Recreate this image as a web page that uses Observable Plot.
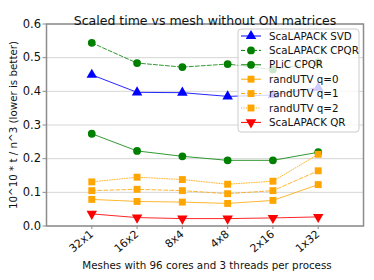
<!DOCTYPE html>
<html>
<head>
<meta charset="utf-8">
<script src="https://cdn.jsdelivr.net/npm/d3@7"></script>
<script src="https://cdn.jsdelivr.net/npm/@observablehq/plot@0.6"></script>
<style>
  html, body { margin: 0; padding: 0; background: #fff; }
  svg { font-family: "DejaVu Sans", sans-serif; }
</style>
</head>
<body>
<div id="chart"></div>
<script>
const meshes = ["32x1", "16x2", "8x4", "4x8", "2x16", "1x32"];
const scalapackSVD  = [0.449, 0.397, 0.396, 0.385, 0.389, 0.411];
const scalapackCPQR = [0.544, 0.484, 0.472, 0.481, 0.465, 0.486];
const plicCPQR      = [0.274, 0.223, 0.207, 0.195, 0.195, 0.219];
const randUTVq0     = [0.079, 0.073, 0.071, 0.067, 0.076, 0.123];
const randUTVq1     = [0.105, 0.109, 0.105, 0.096, 0.105, 0.164];
const randUTVq2     = [0.131, 0.145, 0.138, 0.124, 0.133, 0.213];
const scalapackQR   = [0.036, 0.025, 0.022, 0.022, 0.024, 0.027];
const yTicks = [0, 0.1, 0.2, 0.3, 0.4, 0.5, 0.6];

const triangleDown = {
  draw(context, size) {
    const y = -Math.sqrt(size / (3 * Math.sqrt(3)));
    context.moveTo(0, -y * 2);
    context.lineTo(-Math.sqrt(3) * y, y);
    context.lineTo(Math.sqrt(3) * y, y);
    context.closePath();
  }
};

const seriesDefs = [
  {name: "ScaLAPACK SVD",  values: scalapackSVD,  color: "#0000ff", dash: null,  symbol: "triangle", lineOpacity: 0.85},
  {name: "ScaLAPACK CPQR", values: scalapackCPQR, color: "#008000", dash: "4,2", symbol: "circle", lineOpacity: 0.8},
  {name: "PLiC CPQR",      values: plicCPQR,      color: "#008000", dash: null,  symbol: "circle", lineOpacity: 0.8},
  {name: "randUTV q=0",    values: randUTVq0,     color: "#ffa500", dash: null,  symbol: "square", lineOpacity: 0.8},
  {name: "randUTV q=1",    values: randUTVq1,     color: "#ffa500", dash: "4,2", symbol: "square", lineOpacity: 0.8},
  {name: "randUTV q=2",    values: randUTVq2,     color: "#ffa500", dash: "1,1.5", symbol: "square", lineOpacity: 0.8},
  {name: "ScaLAPACK QR",   values: scalapackQR,   color: "#ff0000", dash: null,  symbol: triangleDown, lineOpacity: 0.85}
];

const marks = [];
marks.push(Plot.gridY(yTicks, {stroke: "#cccccc", strokeOpacity: 1, strokeWidth: 0.8}));
for (const s of seriesDefs) {
  const rows = s.values.map((v, i) => ({i, v}));
  marks.push(Plot.line(rows, {x: "i", y: "v", stroke: s.color, strokeWidth: 1, strokeOpacity: s.lineOpacity, strokeDasharray: s.dash}));
  marks.push(Plot.dot(rows, {x: "i", y: "v", fill: s.color, stroke: "none", symbol: () => s.symbol, r: 3.9}));
}
marks.push(Plot.frame({stroke: "#8c8c8c", strokeWidth: 1.5}));
marks.push(Plot.axisY(yTicks, {tickFormat: d => d.toFixed(1), tickSize: 3.5, stroke: "#8c8c8c", fontSize: 11.5, fill: "#111", label: null, tickPadding: 2}));
marks.push(Plot.axisX(d3.range(meshes.length), {tickFormat: i => meshes[i], tickRotate: -40, tickSize: 3.5, stroke: "#8c8c8c", fontSize: 11, fill: "#111", label: null, tickPadding: 3}));
marks.push(Plot.text(["Scaled time vs mesh without ON matrices"], {frameAnchor: "top", dy: -8, fontSize: 12.5, fill: "#111"}));
marks.push(Plot.text(["Meshes with 96 cores and 3 threads per process"], {frameAnchor: "bottom", dy: 43, dx: 2, fontSize: 10.3, fill: "#111"}));
marks.push(Plot.text(["10^10 * t / n^3 (lower is better)"], {frameAnchor: "left", textAnchor: "middle", dx: -33, rotate: -90, fontSize: 10.3, fill: "#111"}));

const chart = Plot.plot({
  width: 374,
  height: 280,
  marginLeft: 46,
  marginRight: 11,
  marginTop: 23.5,
  marginBottom: 54.5,
  x: {type: "linear", domain: [-1, 6]},
  y: {type: "linear", domain: [0, 0.6]},
  marks
});

// legend drawn on top
const svg = d3.select(chart);
const lg = svg.append("g").attr("transform", "translate(238,29)").attr("text-anchor", "start");
lg.append("rect").attr("x", 0).attr("y", 0).attr("width", 121).attr("height", 103)
  .attr("rx", 3).attr("fill", "#ffffff").attr("fill-opacity", 0.8)
  .attr("stroke", "#cccccc").attr("stroke-width", 1);
seriesDefs.forEach((s, k) => {
  const cy = 7 + k * 14.4;
  const ln = lg.append("line").attr("x1", 3).attr("x2", 23).attr("y1", cy).attr("y2", cy)
    .attr("stroke", s.color).attr("stroke-width", 1);
  if (s.dash) ln.attr("stroke-dasharray", s.dash);
  const type = s.symbol === "triangle" ? d3.symbolTriangle : s.symbol === "circle" ? d3.symbolCircle : s.symbol === "square" ? d3.symbolSquare : triangleDown;
  lg.append("path").attr("d", d3.symbol(type, Math.PI * 3.9 * 3.9)())
    .attr("transform", `translate(13,${cy})`).attr("fill", s.color);
  lg.append("text").attr("x", 31).attr("y", cy).attr("dy", "0.35em")
    .attr("text-anchor", "start")
    .attr("font-size", 10.3).attr("fill", "#111").text(s.name);
});

document.getElementById("chart").appendChild(chart);
</script>
</body>
</html>
